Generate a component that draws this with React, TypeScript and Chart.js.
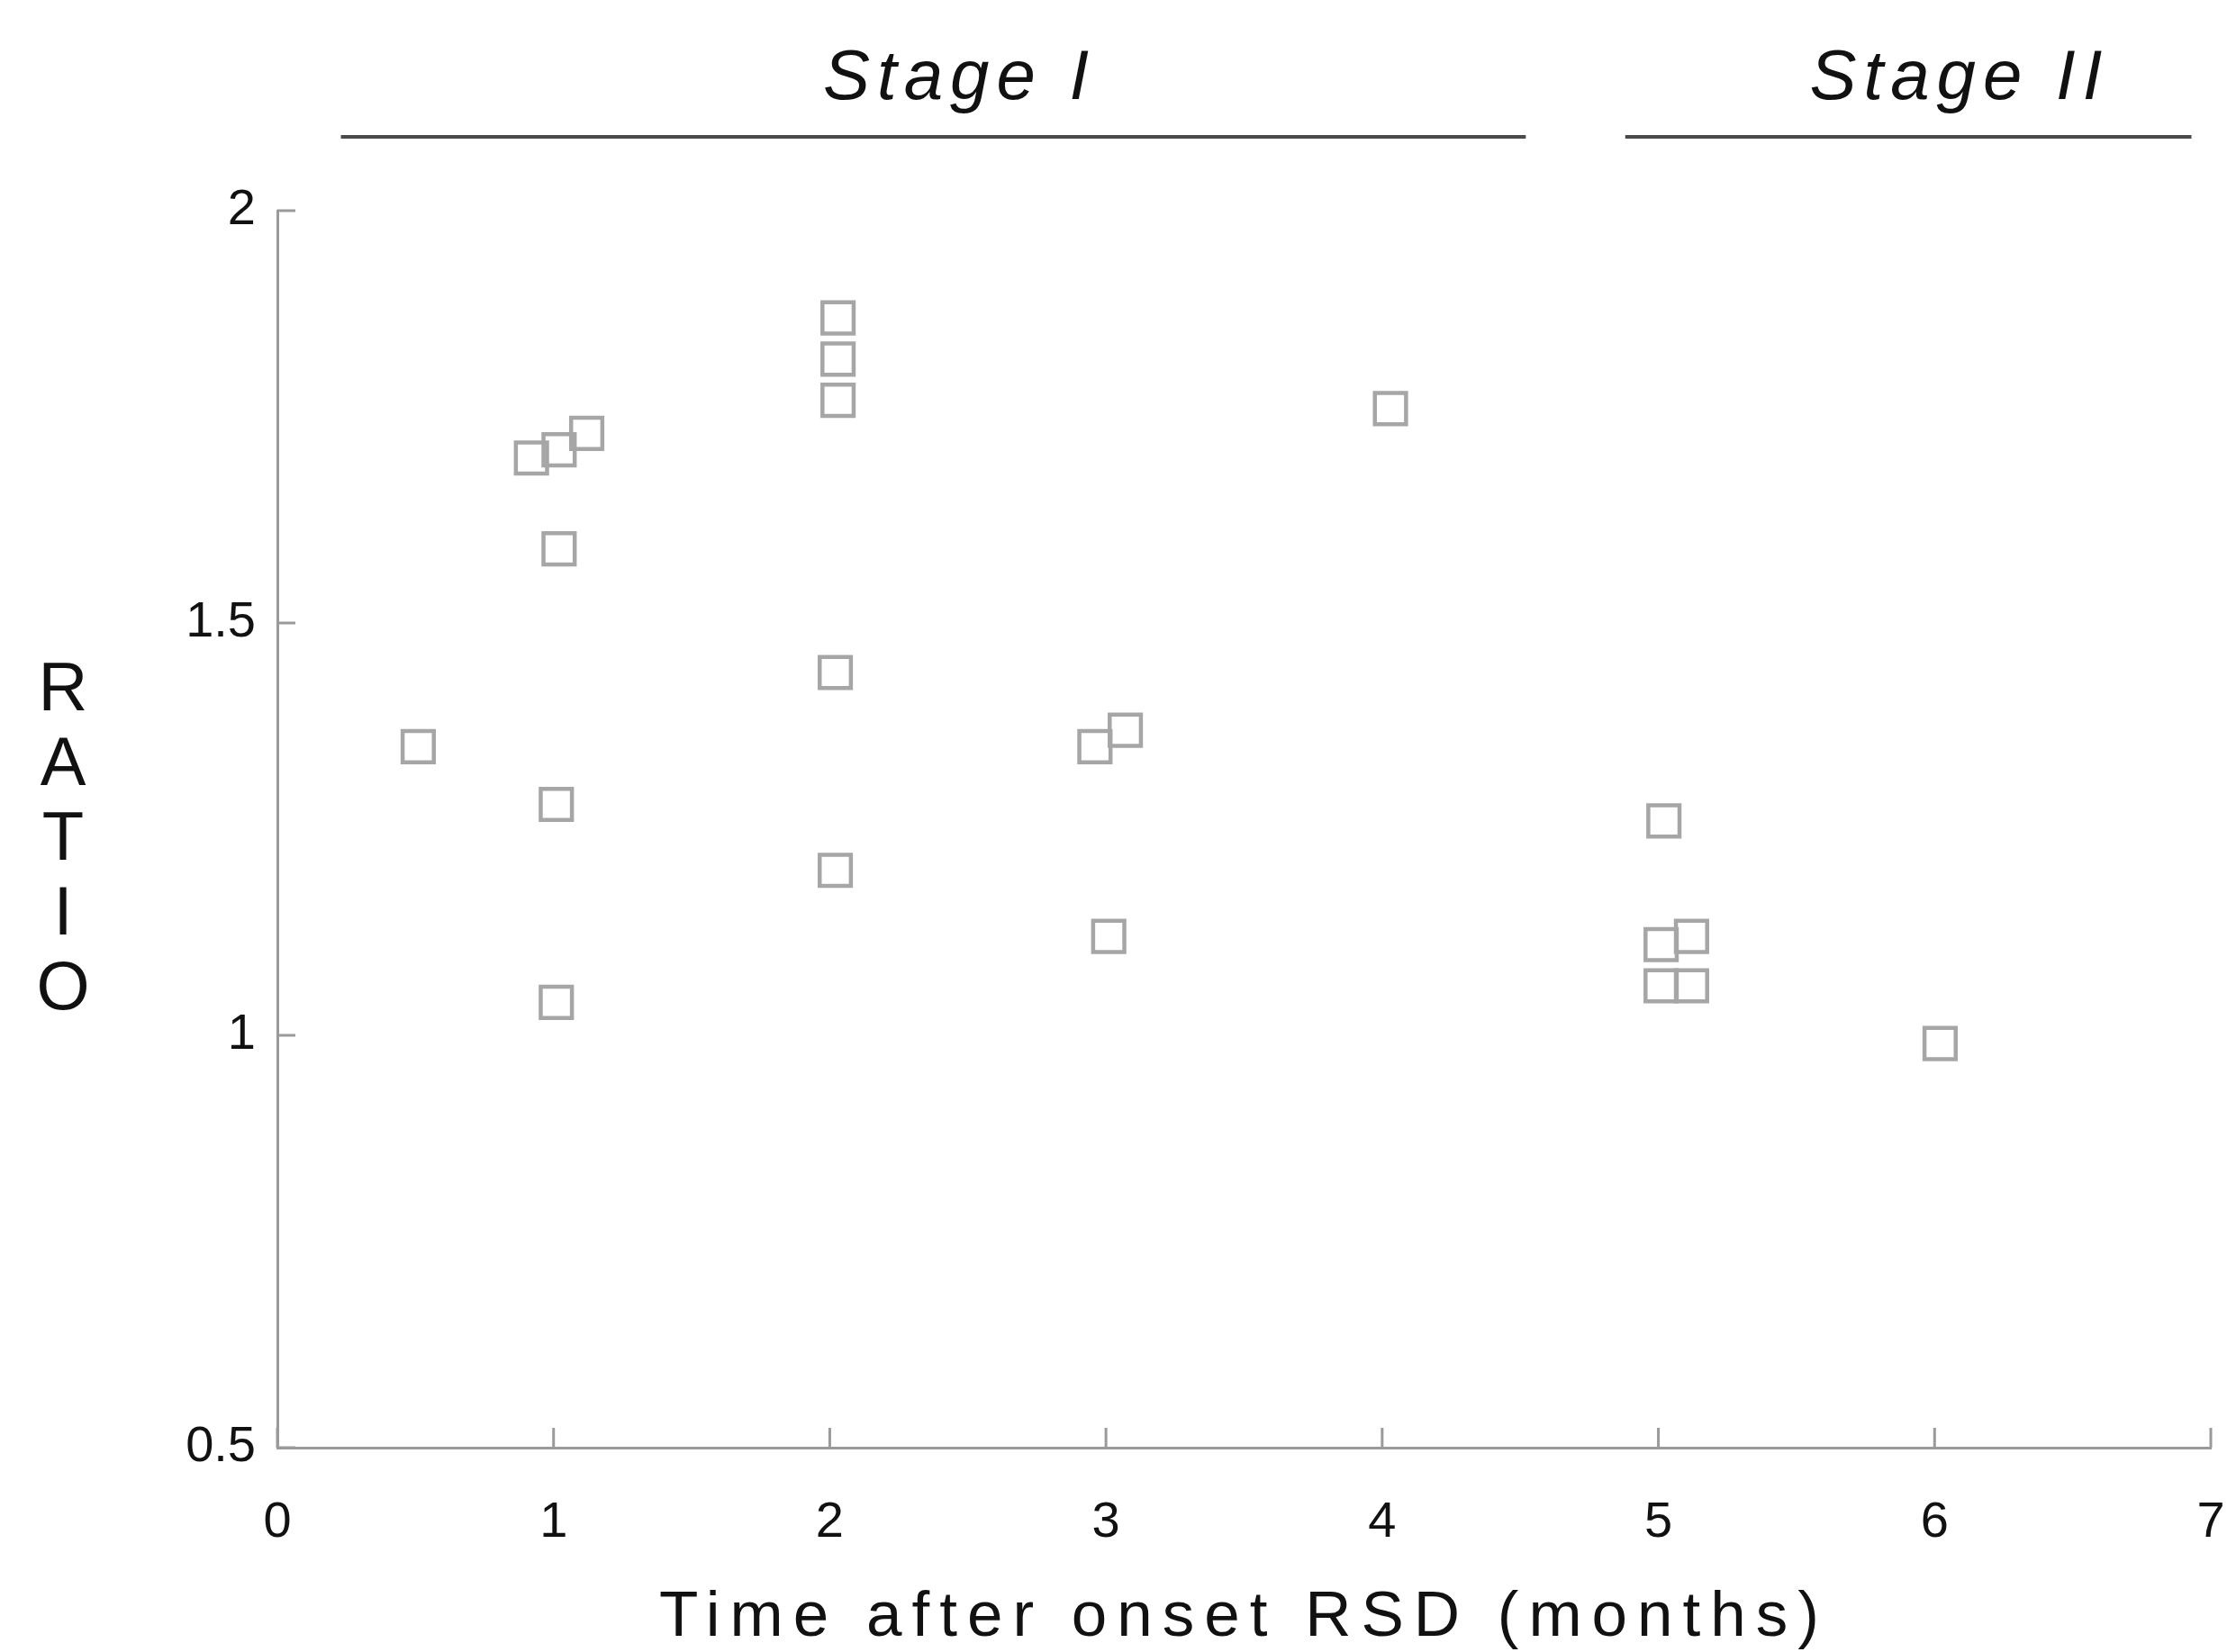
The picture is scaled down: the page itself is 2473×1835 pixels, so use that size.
import React, { useEffect, useRef } from "react";
import { Chart, registerables } from "chart.js";

Chart.register(...registerables);

// ---- data ----
const timeMonths = [0.51, 0.92, 1.02, 1.12, 1.02, 1.01, 1.01, 2.03, 2.03, 2.03, 2.02, 2.02, 2.96, 3.07, 3.01, 4.03, 5.02, 5.01, 5.12, 5.01, 5.12, 6.02];
const ratioValues = [1.35, 1.70, 1.71, 1.73, 1.59, 1.28, 1.04, 1.87, 1.82, 1.77, 1.44, 1.20, 1.35, 1.37, 1.12, 1.76, 1.26, 1.11, 1.12, 1.06, 1.06, 0.99];

const xTickValues = [0, 1, 2, 3, 4, 5, 6, 7];
const yTickValues = [0.5, 1, 1.5, 2];
const yTickLabels = ["0.5", "1", "1.5", "2"];

const stageLabels = ["Stage I", "Stage II"];
const stageStart = [0.23, 4.88];
const stageEnd = [4.52, 6.93];
const stageTextX = [2.47, 6.09];

const xTitle = "Time after onset RSD (months)";
const yTitleLetters = ["R", "A", "T", "I", "O"];

const FONT = '"Liberation Sans", Arial, Helvetica, sans-serif';
const AXIS_COLOR = "#9a9a9a";
const MARKER_COLOR = "#a6a6a6";
const TEXT_COLOR = "#111111";

const CANVAS_W = 2484;
const CANVAS_H = 1835;

const overlayPlugin = {
  id: "overlay",
  afterDraw(chart: any) {
    const { ctx, chartArea } = chart;
    const xs = chart.scales.x;
    const ys = chart.scales.y;
    ctx.save();

    // inward tick marks
    ctx.strokeStyle = AXIS_COLOR;
    ctx.lineWidth = 3;
    ctx.beginPath();
    xTickValues.forEach((v) => {
      const px = xs.getPixelForValue(v);
      ctx.moveTo(px, chartArea.bottom);
      ctx.lineTo(px, chartArea.bottom - 22);
    });
    yTickValues.forEach((v) => {
      const py = ys.getPixelForValue(v);
      ctx.moveTo(chartArea.left, py);
      ctx.lineTo(chartArea.left + 20, py);
    });
    ctx.stroke();

    // stage bars
    ctx.strokeStyle = "#4a4a4a";
    ctx.lineWidth = 4;
    ctx.beginPath();
    stageLabels.forEach((_, i) => {
      const y = chartArea.top - 82;
      ctx.moveTo(xs.getPixelForValue(stageStart[i]), y);
      ctx.lineTo(xs.getPixelForValue(stageEnd[i]), y);
    });
    ctx.stroke();

    // stage labels
    ctx.fillStyle = TEXT_COLOR;
    ctx.font = `italic 78px ${FONT}`;
    (ctx as any).letterSpacing = "8px";
    ctx.textAlign = "center";
    ctx.textBaseline = "alphabetic";
    stageLabels.forEach((label, i) => {
      ctx.fillText(label, xs.getPixelForValue(stageTextX[i]), chartArea.top - 124);
    });

    // x title
    ctx.font = `71px ${FONT}`;
    (ctx as any).letterSpacing = "11px";
    ctx.fillText(xTitle, (chartArea.left + chartArea.right) / 2, chartArea.bottom + 209);

    // y title (stacked letters)
    ctx.font = `76px ${FONT}`;
    (ctx as any).letterSpacing = "0px";
    ctx.textBaseline = "middle";
    const midY = (chartArea.top + chartArea.bottom) / 2 + 13;
    yTitleLetters.forEach((ch, i) => {
      ctx.fillText(ch, 70, midY + (i - 2) * 83);
    });

    ctx.restore();
  },
};

export default function App() {
  const canvasRef = useRef<HTMLCanvasElement | null>(null);

  useEffect(() => {
    if (!canvasRef.current) return;
    const points = timeMonths.map((t, i) => ({ x: t, y: ratioValues[i] }));
    const chart = new Chart(canvasRef.current, {
      type: "scatter",
      data: {
        datasets: [
          {
            data: points,
            pointStyle: "rect",
            pointRadius: 24.5,
            pointHoverRadius: 24.5,
            pointBorderWidth: 4.5,
            borderColor: MARKER_COLOR,
            backgroundColor: "rgba(0,0,0,0)",
            pointBackgroundColor: "rgba(0,0,0,0)",
            pointBorderColor: MARKER_COLOR,
          } as any,
        ],
      },
      options: {
        responsive: false,
        animation: false,
        events: [],
        layout: { padding: { left: 0, top: 234, right: 18, bottom: 0 } },
        plugins: {
          legend: { display: false },
          tooltip: { enabled: false },
          title: { display: false },
        },
        scales: {
          x: {
            type: "linear",
            min: 0,
            max: 7,
            afterBuildTicks: (scale: any) => {
              scale.ticks = xTickValues.map((v) => ({ value: v }));
            },
            afterFit: (scale: any) => {
              scale.height = 227;
              scale.paddingLeft = 0;
              scale.paddingRight = 0;
            },
            ticks: {
              color: TEXT_COLOR,
              font: { family: FONT, size: 56 },
              padding: 0,
              maxRotation: 0,
              callback: (v: any) => String(v),
            },
            grid: {
              display: true,
              drawOnChartArea: false,
              drawTicks: true,
              tickLength: 50,
              color: "rgba(0,0,0,0)",
            },
            border: { display: true, color: AXIS_COLOR, width: 3 },
          },
          y: {
            type: "linear",
            min: 0.5,
            max: 2,
            afterBuildTicks: (scale: any) => {
              scale.ticks = yTickValues.map((v) => ({ value: v }));
            },
            afterFit: (scale: any) => {
              scale.width = 308;
            },
            ticks: {
              color: TEXT_COLOR,
              font: { family: FONT, size: 56 },
              padding: 0,
              callback: (v: any) => {
                const idx = yTickValues.indexOf(Number(v));
                return idx >= 0 ? yTickLabels[idx] : "";
              },
            },
            grid: {
              display: true,
              drawOnChartArea: false,
              drawTicks: true,
              tickLength: 24,
              color: "rgba(0,0,0,0)",
            },
            border: { display: true, color: AXIS_COLOR, width: 3 },
          },
        },
      },
      plugins: [overlayPlugin],
    });
    return () => chart.destroy();
  }, []);

  return (
    <div
      style={{
        position: "fixed",
        left: 0,
        top: 0,
        width: "2473px",
        height: "1835px",
        background: "#ffffff",
        overflow: "hidden",
      }}
    >
      <canvas
        ref={canvasRef}
        width={CANVAS_W}
        height={CANVAS_H}
        style={{ display: "block", width: `${CANVAS_W}px`, height: `${CANVAS_H}px` }}
      />
    </div>
  );
}
